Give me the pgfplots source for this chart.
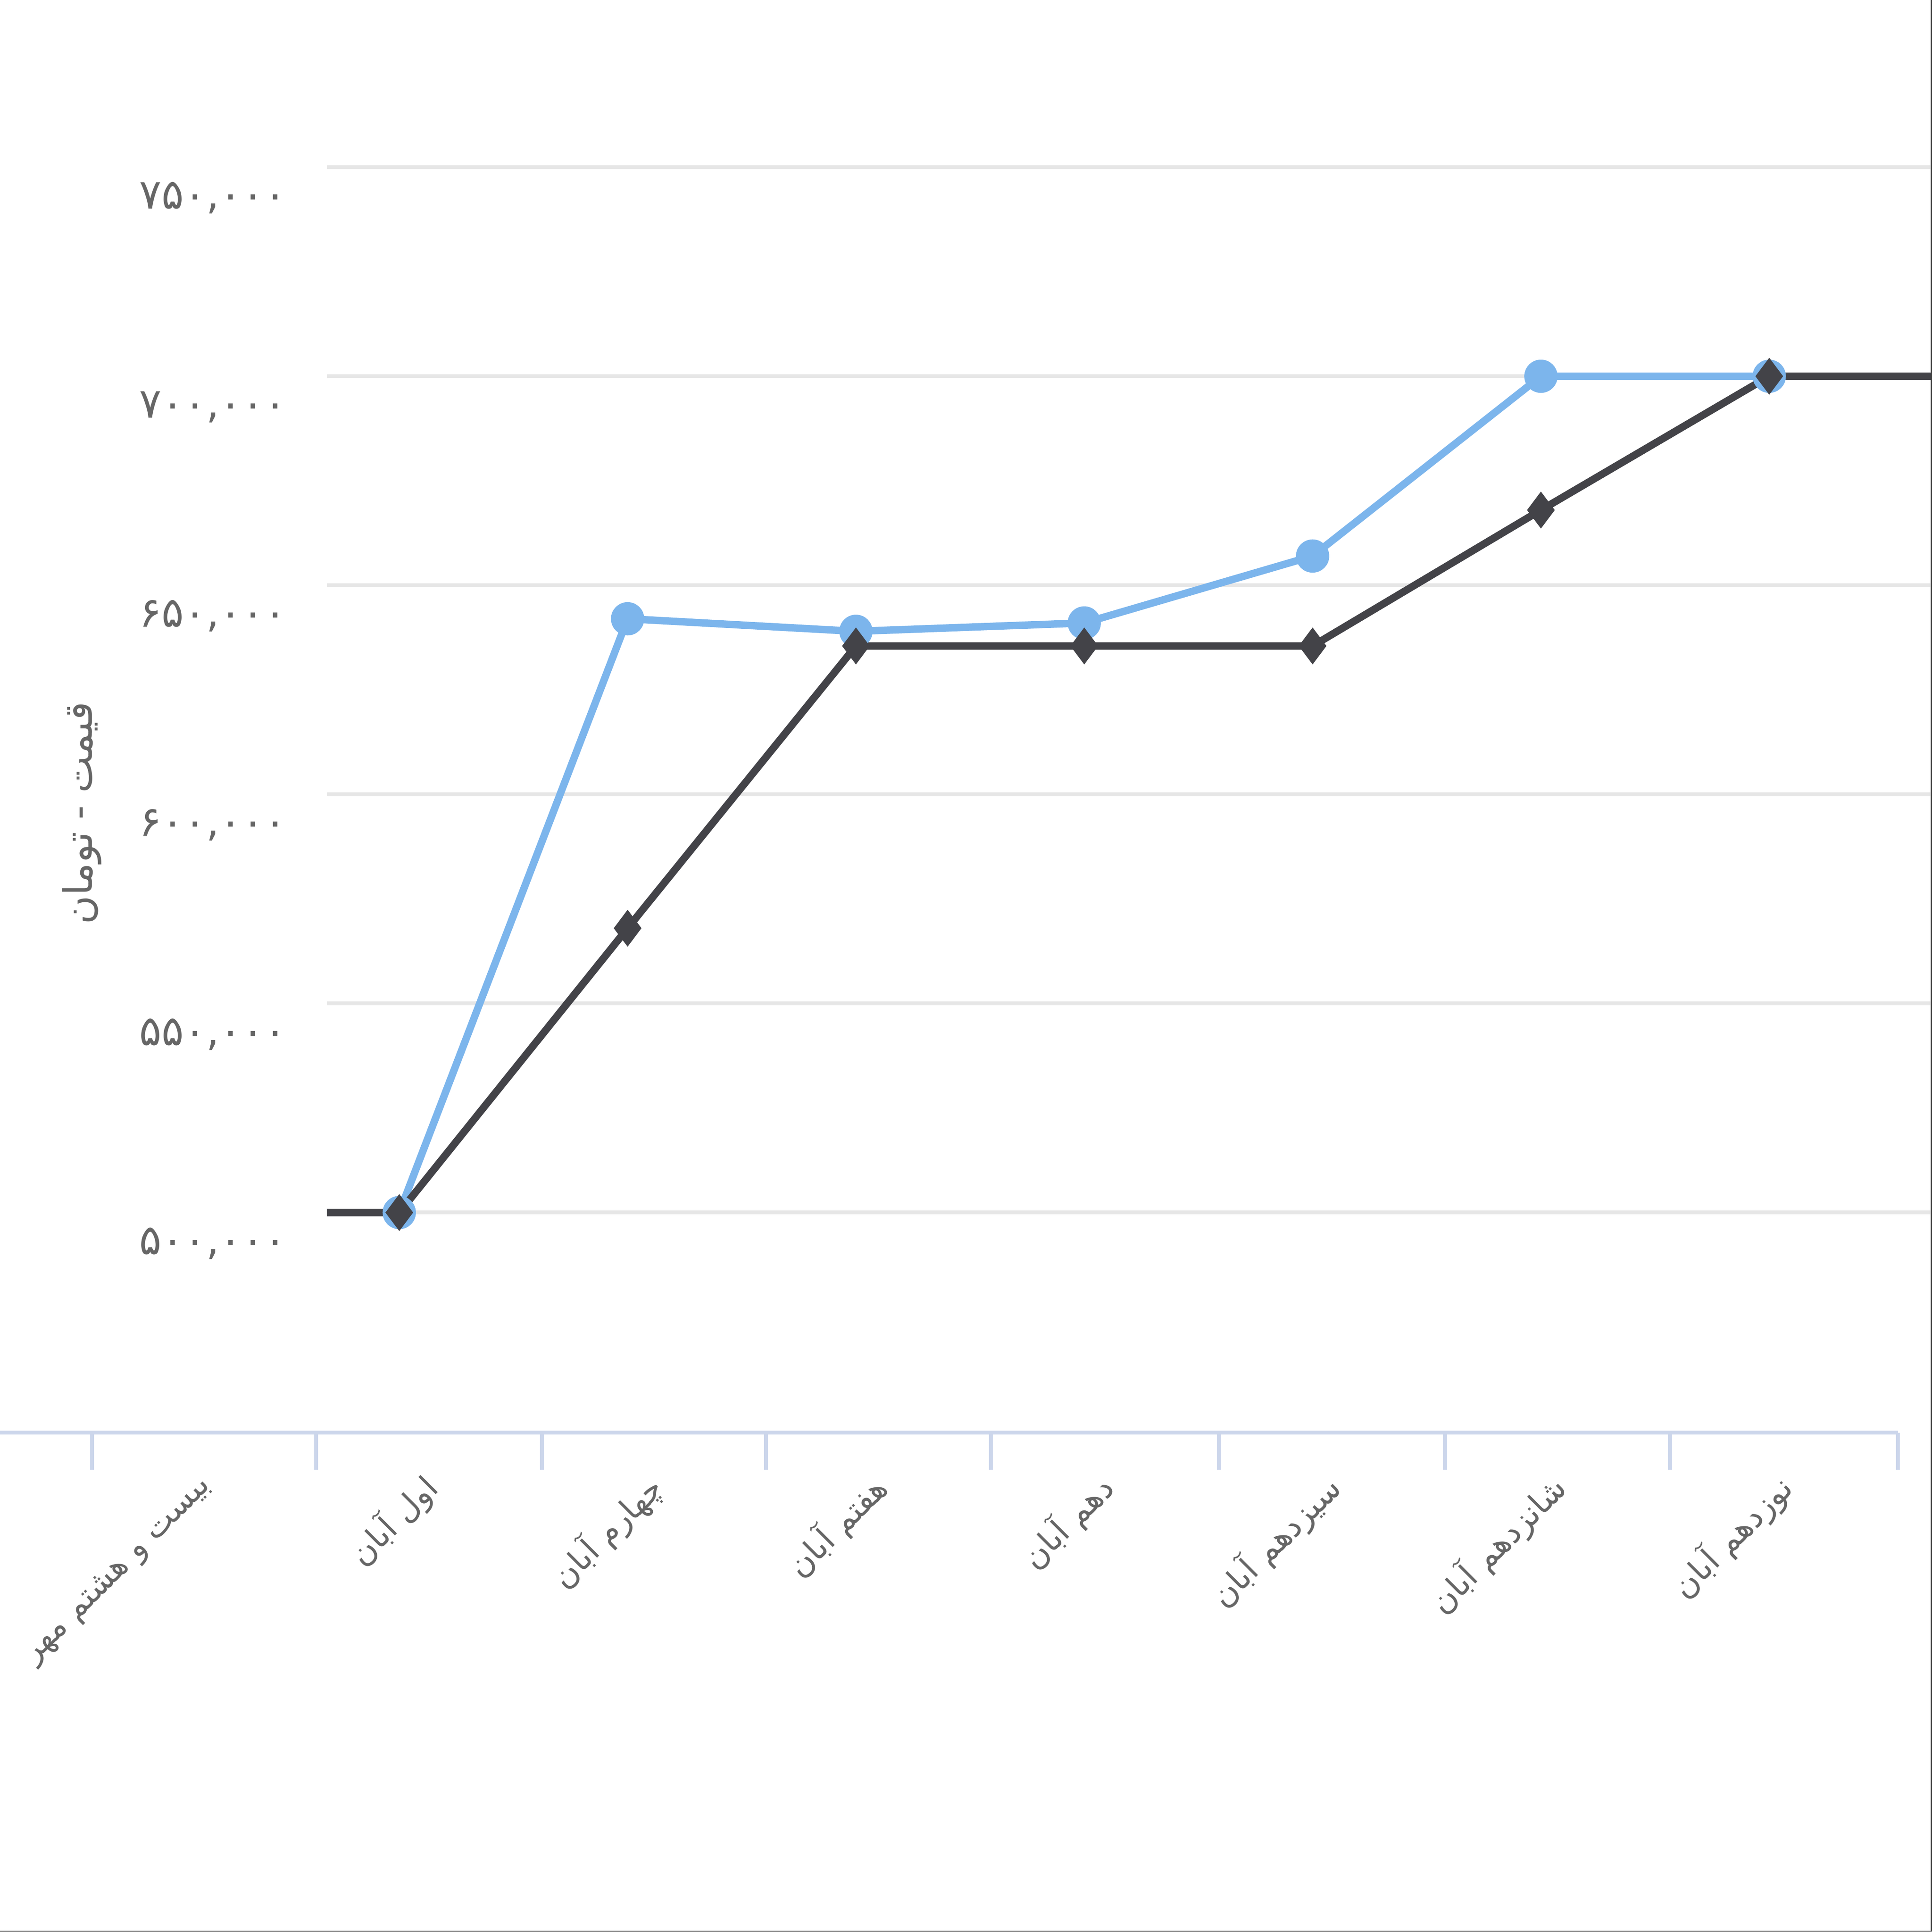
\documentclass[border=0pt]{standalone}
\usepackage{fontspec}
\usepackage{pgfplots}
\pgfplotsset{compat=1.18}
\TeXXeTstate=1
\newfontfamily\fa[Script=Arabic]{DejaVu Sans}
\definecolor{sblue}{HTML}{7CB5EC}
\definecolor{sblack}{HTML}{434348}
\definecolor{gridc}{HTML}{E6E6E6}
\definecolor{axisc}{HTML}{CCD6EB}
\definecolor{labc}{HTML}{666666}

\begin{document}
\begin{tikzpicture}
\useasboundingbox (0,0) rectangle (156.8mm,156.8mm);

% category axis (ticks between categories)
\begin{axis}[
  at={(0mm,40.53mm)}, anchor=south west,
  scale only axis, width=154.03mm, height=5mm,
  xmin=0, xmax=1540.3, ymin=0, ymax=1,
  axis x line*=bottom, hide y axis,
  x axis line style={draw=axisc, line width=0.31mm},
  xtick={165.7,348.2,530.75,713.0,896.7,1081.05,1264.1,1447.8},
  xticklabels={
    {\beginR بیست و هشتم مهر\endR},
    {\beginR اول آبان\endR},
    {\beginR چهارم آبان\endR},
    {\beginR هفتم آبان\endR},
    {\beginR دهم آبان\endR},
    {\beginR سیزدهم آبان\endR},
    {\beginR شانزدهم آبان\endR},
    {\beginR نوزدهم آبان\endR}},
  major tick length=0pt,
  minor xtick={74.7,256.7,439.7,621.8,804.2,989.2,1172.9,1355.3,1540.3},
  minor tick length=3mm,
  tick align=outside, xtick pos=bottom,
  minor tick style={draw=axisc, line width=0.31mm},
  xticklabel style={inner sep=0pt, anchor=east, yshift=-4mm, xshift=0.3mm, rotate=45,
    font=\fa\fontsize{7.4}{9}\selectfont, text=labc},
]
\end{axis}

% data axis
\begin{axis}[
  at={(26.53mm,41.42mm)}, anchor=south west,
  scale only axis, width=130.27mm, height=101.81mm,
  xmin=0.683, xmax=7.713, ymin=450000, ymax=750000,
  axis line style={draw=none},
  xtick=\empty,
  ytick={500000,550000,600000,650000,700000,750000},
  yticklabels={{۵۰۰,۰۰۰},{۵۵۰,۰۰۰},{۶۰۰,۰۰۰},{۶۵۰,۰۰۰},{۷۰۰,۰۰۰},{۷۵۰,۰۰۰}},
  scaled y ticks=false,
  ymajorgrids, grid style={draw=gridc, line width=0.31mm},
  major tick length=0pt,
  yticklabel style={anchor=east, inner sep=0pt, xshift=-3.2mm, yshift=-2.5mm,
    font=\fa\fontsize{9.6}{11}\selectfont, text=labc},
  ylabel={\fa\beginR قیمت - تومان\endR},
  every axis y label/.style={at={(rel axis cs:-0.1526,0.485)}, rotate=90, anchor=center,
    font=\fontsize{9}{11}\selectfont, text=labc},
]
\addplot[sblue, line width=0.6mm, mark=*, mark size=1.05mm, mark options={fill=sblue, draw=none}]
  coordinates {(1,500000) (2,642000) (3,639000) (4,641000) (5,657000) (6,700000) (7,700000)};
\addplot[sblack, line width=0.6mm, mark=diamond*, mark size=1.0mm, mark options={fill=sblack, draw=none}]
  coordinates {(0,500000) (1,500000) (2,568000) (3,635500) (4,635500) (5,635500) (6,668000) (7,700000) (8,700000)};
\end{axis}

\draw[black!75, line width=0.12mm] (156.74mm,0) -- (156.74mm,156.8mm);
\draw[black!45, line width=0.12mm] (0,0.06mm) -- (156.8mm,0.06mm);
\end{tikzpicture}
\end{document}
